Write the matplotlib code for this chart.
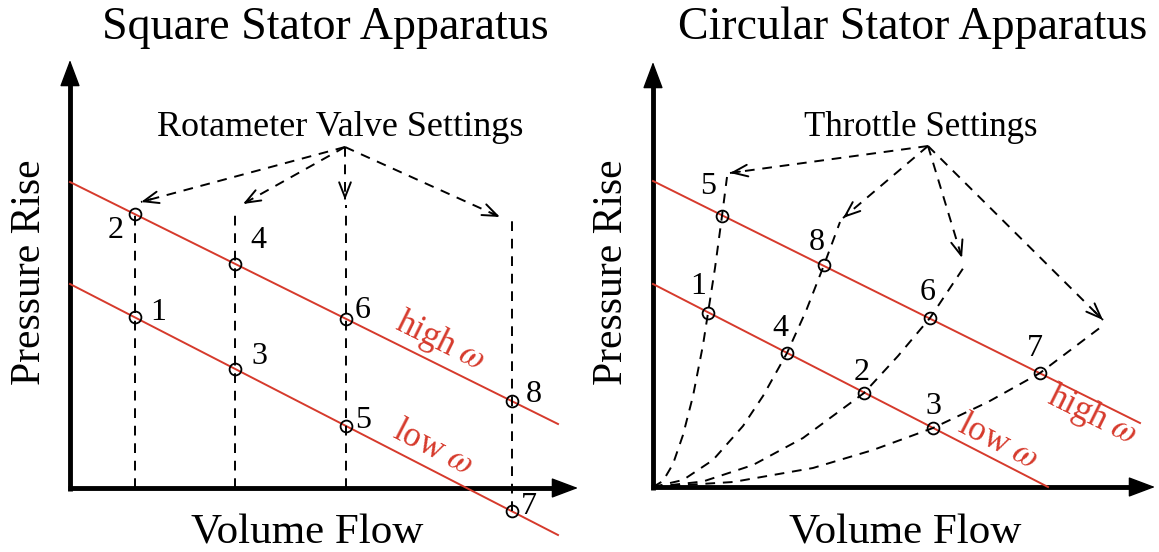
import matplotlib.pyplot as plt
import numpy as np

plt.rcParams['font.family'] = ['Liberation Serif', 'DejaVu Serif']
plt.rcParams['mathtext.fontset'] = 'stix'

RED = '#d63a2c'

# ---------------- data (flow / pressure, arbitrary units) ----------------
# square stator: two speed lines and 8 operating points
sq_high_q = [0.0, 48.8]
sq_high_p = [30.6, 6.4]
sq_low_q = [0.0, 48.8]
sq_low_p = [20.4, -4.7]
sq_labels = ['1', '2', '3', '4', '5', '6', '7', '8']
sq_q = [6.5, 6.5, 16.5, 16.5, 27.6, 27.6, 44.2, 44.2]
sq_p = [17.1, 27.4, 11.9, 22.4, 6.2, 16.9, -2.3, 8.7]
# rotameter valve settings (vertical guides)
sq_valve_q = [6.5, 16.5, 27.6, 44.2]
sq_valve_top = [27.4, 28.0, 28.3, 27.0]
sq_valve_bottom = [0.0, 0.0, 0.0, -2.3]
sq_apex = (27.5, 34.1)
sq_arrow_q = [7.1, 17.3, 27.5, 43.0]
sq_arrow_p = [28.6, 28.4, 28.8, 27.1]

# circular stator
ci_high_q = [0.0, 48.7]
ci_high_p = [30.6, 6.4]
ci_low_q = [0.0, 39.5]
ci_low_p = [20.3, 0.0]
ci_labels = ['1', '2', '3', '4', '5', '6', '7', '8']
ci_q = [5.5, 21.1, 28.0, 13.4, 6.9, 27.7, 38.7, 17.1]
ci_p = [17.4, 9.4, 5.9, 13.4, 27.1, 16.9, 11.4, 22.2]
# throttle lines
thr_a_q = [0, 1, 2, 3, 4, 5, 5.5, 6.2, 6.9, 7.4]
thr_a_p = [0, 0.6, 2.3, 5.2, 9.1, 14.2, 17.4, 21.9, 27.1, 31.0]
thr_b_q = [0, 3, 6, 9, 11, 13.4, 15.3, 17.1, 18.7]
thr_b_p = [0, 0.7, 2.7, 6.1, 9.1, 13.4, 17.6, 22.2, 26.5]
thr_c_q = [0, 5, 10, 15, 21.1, 24.5, 27.7, 31.1]
thr_c_p = [0, 0.55, 2.2, 4.9, 9.4, 13.1, 16.9, 22.0]
thr_d_q = [0, 8, 16, 22, 28, 33.5, 38.7, 45.2]
thr_d_p = [0, 0.5, 1.9, 3.7, 5.9, 8.5, 11.4, 16.3]
ci_apex = (27.5, 34.1)
ci_arrow_q = [7.7, 19.0, 30.9, 45.0]
ci_arrow_p = [31.4, 26.9, 22.9, 16.7]

# label offsets in pixels (dx, dy up)
sq_off = {'1': (23, 5), '2': (-19, -16), '3': (24, 13), '4': (23, 23),
          '5': (17, 6), '6': (17, 9), '7': (17, 5), '8': (22, 7)}
ci_off = {'1': (-10, 26), '2': (-2, 21), '3': (0, 21), '4': (-7, 25),
          '5': (-14, 29), '6': (-2, 25), '7': (-5, 25), '8': (-7, 22)}

DASH = dict(color='black', lw=1.4, dashes=(5, 4), dash_capstyle='butt')

fig = plt.figure(figsize=(11.59, 5.52), dpi=100)
ax1 = fig.add_axes([0, 0, 580 / 1159, 1])
ax2 = fig.add_axes([580 / 1159, 0, 579 / 1159, 1])
ax1.set_xlim(-7.0, 51.0)
ax1.set_ylim(-6.4, 48.8)
ax2.set_xlim(-7.3, 50.6)
ax2.set_ylim(-6.5, 48.7)


def draw_frame(ax, xtip, ytip):
    ax.plot([-0.25, xtip - 1.5], [0, 0], color='black', lw=3.5, solid_capstyle='butt')
    ax.plot([0, 0], [-0.25, ytip - 1.5], color='black', lw=3.5, solid_capstyle='butt')
    hp = dict(arrowstyle='-|>,head_length=0.85,head_width=0.32', color='black',
              lw=1, shrinkA=0, shrinkB=0, mutation_scale=20)
    ax.annotate('', xy=(xtip, 0), xytext=(xtip - 2.5, 0), arrowprops=hp)
    ax.annotate('', xy=(0, ytip), xytext=(0, ytip - 2.5), arrowprops=hp)
    ax.axis('off')


def dashed_arrow(ax, start, end):
    ax.plot([start[0], end[0]], [start[1], end[1]], **DASH)
    d = np.array(end) - np.array(start)
    back = np.array(end) - 0.05 * d
    ax.annotate('', xy=end, xytext=tuple(back),
                arrowprops=dict(arrowstyle='->,head_length=0.9,head_width=0.35',
                                color='black', lw=1.4, shrinkA=0, shrinkB=0,
                                mutation_scale=12))


def line_angle(q, p):
    return np.degrees(np.arctan2(p[1] - p[0], q[1] - q[0]))


MARK = dict(ms=8.5, mfc='none', mec='black', mew=1.3)

# ---------------- left panel ----------------
draw_frame(ax1, 50.8, 42.8)
ax1.plot(sq_high_q, sq_high_p, color=RED, lw=1.4)
ax1.plot(sq_low_q, sq_low_p, color=RED, lw=1.4)
for q, top, bot in zip(sq_valve_q, sq_valve_top, sq_valve_bottom):
    ax1.plot([q, q], [bot, top], **DASH)
for q, p in zip(sq_arrow_q, sq_arrow_p):
    dashed_arrow(ax1, sq_apex, (q, p))
ax1.plot(sq_q, sq_p, 'o', **MARK)
for lab, q, p in zip(sq_labels, sq_q, sq_p):
    dx, dy = sq_off[lab]
    ax1.annotate(lab, (q, p), xytext=(dx * 0.72, dy * 0.72), textcoords='offset points',
                 ha='center', va='center', fontsize=23)
ax1.text(25.5, 46.0, 'Square Stator Apparatus', ha='center', va='center', fontsize=33)
ax1.text(-4.0, 21.6, 'Pressure Rise', ha='center', va='center', rotation=90, fontsize=30)
ax1.text(23.7, -5.6, 'Volume Flow', ha='center', va='baseline', fontsize=31)
ax1.text(27.0, 36.0, 'Rotameter Valve Settings', ha='center', va='center', fontsize=26)
ax1.text(37.0, 14.6, r'high $\omega$', color=RED, ha='center', va='center', fontsize=25,
         rotation=line_angle(sq_high_q, sq_high_p), rotation_mode='anchor')
ax1.text(36.3, 4.0, r'low $\omega$', color=RED, ha='center', va='center', fontsize=25,
         rotation=line_angle(sq_low_q, sq_low_p), rotation_mode='anchor')

# ---------------- right panel ----------------
draw_frame(ax2, 50.2, 42.5)
ax2.plot(ci_high_q, ci_high_p, color=RED, lw=1.4)
ax2.plot(ci_low_q, ci_low_p, color=RED, lw=1.4)
for tq, tp in [(thr_a_q, thr_a_p), (thr_b_q, thr_b_p), (thr_c_q, thr_c_p), (thr_d_q, thr_d_p)]:
    ax2.plot(tq, tp, **DASH)
for q, p in zip(ci_arrow_q, ci_arrow_p):
    dashed_arrow(ax2, ci_apex, (q, p))
ax2.plot(ci_q, ci_p, 'o', **MARK)
for lab, q, p in zip(ci_labels, ci_q, ci_p):
    dx, dy = ci_off[lab]
    ax2.annotate(lab, (q, p), xytext=(dx * 0.72, dy * 0.72), textcoords='offset points',
                 ha='center', va='center', fontsize=23)
ax2.text(26.0, 45.9, 'Circular Stator Apparatus', ha='center', va='center', fontsize=33)
ax2.text(-4.1, 21.5, 'Pressure Rise', ha='center', va='center', rotation=90, fontsize=30)
ax2.text(25.2, -5.7, 'Volume Flow', ha='center', va='baseline', fontsize=31)
ax2.text(26.8, 36.0, 'Throttle Settings', ha='center', va='center', fontsize=25)
ax2.text(43.9, 7.1, r'high $\omega$', color=RED, ha='center', va='center', fontsize=25,
         rotation=line_angle(ci_high_q, ci_high_p), rotation_mode='anchor')
ax2.text(34.5, 4.5, r'low $\omega$', color=RED, ha='center', va='center', fontsize=25,
         rotation=line_angle(ci_low_q, ci_low_p), rotation_mode='anchor')

fig.savefig('out.png', dpi=100)
